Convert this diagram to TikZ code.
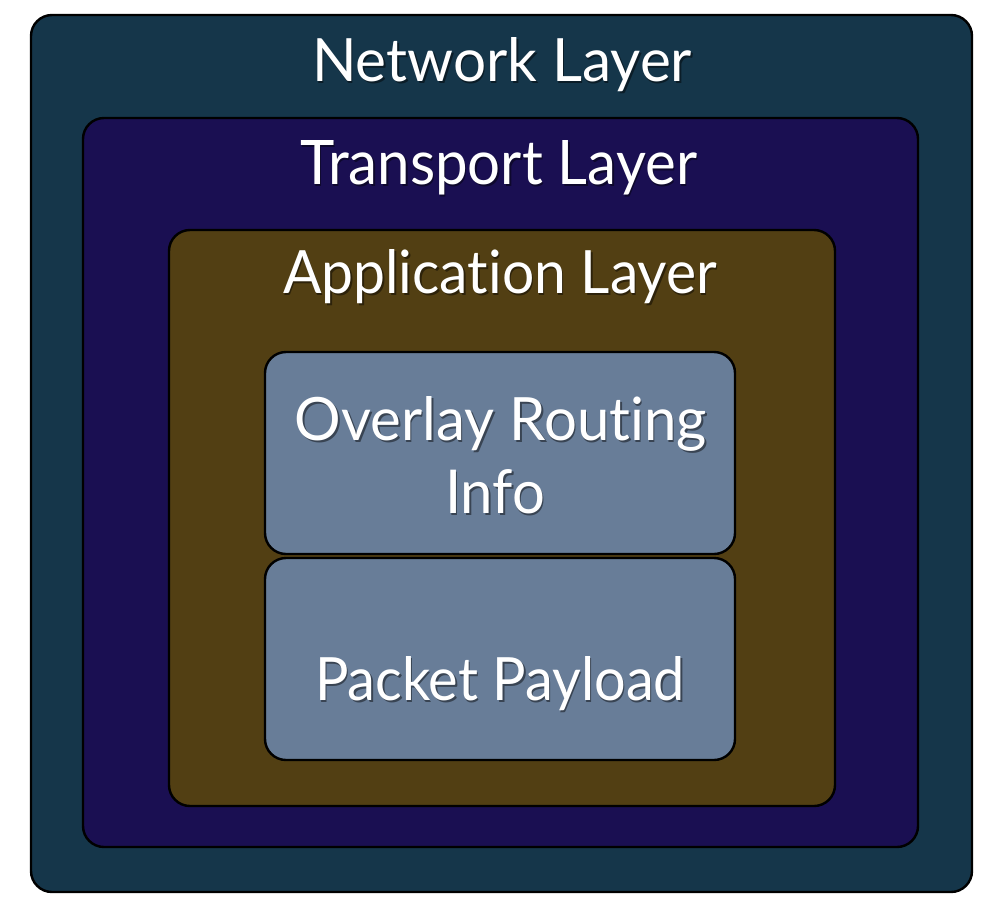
\documentclass[tikz,border=0pt]{standalone}
\usepackage{fontspec}
\setmainfont{Lato}[Ligatures={NoCommon,NoRare,NoContextual}]
\usepackage{graphicx}
\definecolor{netc}{HTML}{15364A}
\definecolor{trc}{HTML}{1A0F52}
\definecolor{appc}{HTML}{523F13}
\definecolor{inc}{HTML}{687D98}
\tikzset{
  layerbox/.style={draw=black, line width=2.4pt, rounded corners=21pt, rectangle, inner sep=0pt, outer sep=0pt},
  lbl/.style={anchor=base, inner sep=0pt, outer sep=0pt, text=white},
  lblshadow/.style={anchor=base, inner sep=0pt, outer sep=0pt, text=black, opacity=0.45},
}
\newcommand{\mylbl}[5]{%
  \node[lblshadow] (#1s) at (#2+1.5,#3+2.5) {\resizebox{#4pt}{44pt}{\fontsize{60}{60}\selectfont #5}};
  \node[lbl] (#1) at (#2,#3) {\resizebox{#4pt}{44pt}{\fontsize{60}{60}\selectfont #5}};
}
\begin{document}
\begin{tikzpicture}[x=1pt,y=-1pt]
\useasboundingbox (0,0) rectangle (998,910);
\node[layerbox, fill=netc, minimum width=941pt, minimum height=877pt] (net) at (501.5,453.5) {};
\node[layerbox, fill=trc, minimum width=835pt, minimum height=729pt] (tr) at (500.5,482.5) {};
\node[layerbox, fill=appc, minimum width=666pt, minimum height=576pt] (app) at (502,518) {};
\node[layerbox, fill=inc, minimum width=470pt, minimum height=202pt] (ovl) at (500,453) {};
\node[layerbox, fill=inc, minimum width=470pt, minimum height=202pt] (pay) at (500,659) {};
\mylbl{netl}{502}{81}{380}{Network Layer}
\mylbl{trl}{498.5}{184}{397}{Transport Layer}
\mylbl{appl}{500}{293}{434}{Application Layer}
\mylbl{ovll}{501}{440}{412}{Overlay Routing}
\mylbl{infl}{495}{513}{100}{Info}
\mylbl{payl}{500}{700}{370}{Packet Payload}
\end{tikzpicture}
\end{document}
